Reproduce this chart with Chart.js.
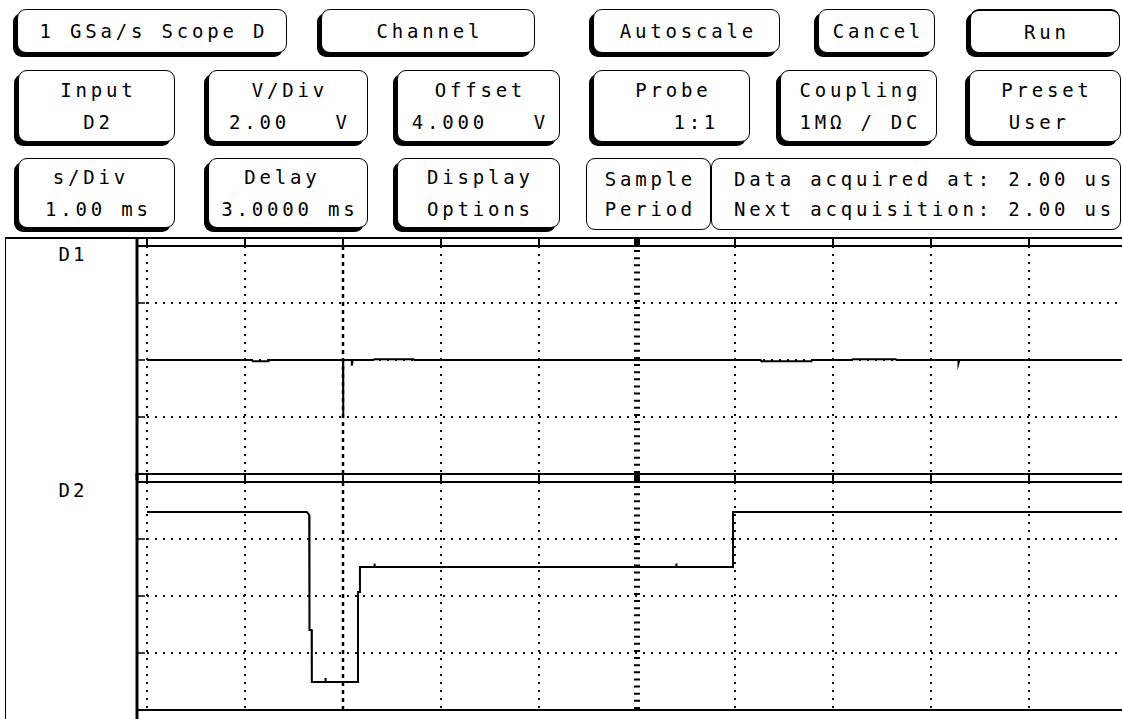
<!DOCTYPE html>
<html>
<head>
<meta charset="utf-8">
<script src="https://cdn.jsdelivr.net/npm/chart.js@4.4.0/dist/chart.umd.min.js"></script>
<style>
    html, body { margin: 0; padding: 0; width: 1122px; height: 719px; overflow: hidden; background: #fff; }
    body { position: relative; font-family: 'DejaVu Sans Mono', monospace; font-size: 19px; color: #000; }
    .btn {
        position: absolute; box-sizing: border-box; border: 1px solid #000; border-radius: 9px;
        background: #fff; display: flex; flex-direction: column; justify-content: center; align-items: center;
        line-height: 32px; letter-spacing: 3.8px; white-space: pre; padding-left: 3.8px;
    }
    .btn.sh { box-shadow: -4px 4px 0 #000; }
    .btn.left { align-items: flex-start; padding-left: 22px; }
    .label-box {
        position: absolute; left: 5px; top: 237px; width: 134px; height: 500px; box-sizing: border-box;
        border-left: 1.5px solid #000; border-top: 2px solid #000;
    }
    .ch { position: absolute; left: 7px; width: 132px; text-align: center; letter-spacing: 3px; line-height: 20px; }
    canvas { position: absolute; left: 0; }
</style>
</head>
<body>

<!-- Панель кнопок -->
<div class="btn sh" style="left:17px;top:9px;width:270px;height:44px">1 GSa/s Scope D</div>
<div class="btn sh" style="left:321px;top:9px;width:214px;height:44px">Channel</div>
<div class="btn sh" style="left:593px;top:9px;width:187px;height:44px">Autoscale</div>
<div class="btn sh" style="left:818px;top:9px;width:117px;height:44px">Cancel</div>
<div class="btn sh" style="left:970px;top:9px;width:150px;height:44px;border-top-width:2px">Run</div>

<div class="btn sh" style="left:18px;top:70px;width:157px;height:72px"><div>Input</div><div>D2</div></div>
<div class="btn sh" style="left:208px;top:70px;width:160px;height:72px"><div>V/Div</div><div>2.00   V</div></div>
<div class="btn sh" style="left:397px;top:70px;width:163px;height:72px"><div>Offset</div><div>4.000   V</div></div>
<div class="btn sh" style="left:593px;top:70px;width:157px;height:72px"><div>Probe</div><div>   1:1</div></div>
<div class="btn sh" style="left:780px;top:70px;width:157px;height:72px"><div>Coupling</div><div>1MΩ / DC</div></div>
<div class="btn sh" style="left:969px;top:70px;width:152px;height:72px"><div>Preset</div><div>User </div></div>

<div class="btn sh" style="left:18px;top:158px;width:157px;height:70px"><div>s/Div </div><div>1.00 ms</div></div>
<div class="btn sh" style="left:208px;top:158px;width:160px;height:70px"><div>Delay </div><div>3.0000 ms</div></div>
<div class="btn sh" style="left:397px;top:158px;width:163px;height:70px"><div>Display</div><div>Options</div></div>
<div class="btn" style="left:586px;top:158px;width:125px;height:72px;line-height:30px"><div>Sample</div><div>Period</div></div>
<div class="btn left" style="left:711px;top:158px;width:410px;height:72px;line-height:30px"><div>Data acquired at: 2.00 us</div><div>Next acquisition: 2.00 us</div></div>

<!-- Левая колонка с подписями каналов -->
<div class="label-box"></div>
<div class="ch" style="top:244px">D1</div>
<div class="ch" style="top:480px">D2</div>

<canvas id="scopeD1" width="1130" height="248" style="top:232px"></canvas>
<canvas id="scopeD2" width="1130" height="247" style="top:472px"></canvas>

<script>
// Развёртка: 1 мс/дел, задержка 3 мс (центр экрана), 10 делений
const timeMin = -2;
const timeMax = 8;
const timeCenter = 3;

// Канал D1 (мс, В)
const d1Time = [-2, -0.93, -0.92, -0.76, -0.75, -0.6, -0.59, 0, 0, 0.005, 0.09, 0.09, 0.1, 0.31, 0.32,
    0.72, 0.73, 4.26, 4.27, 4.78, 4.79, 5.19, 5.2, 5.64, 5.65, 6.28, 6.28, 6.29, 8];
const d1Volt = [0, 0, -0.04, -0.04, 0, 0, 0, 0, -2.0, 0, 0, -0.2, 0, 0, 0.03,
    0.03, 0, 0, -0.04, -0.04, 0, 0, 0.03, 0.03, 0, 0, -0.12, 0, 0];

// Канал D2 (мс, В): 2 В/дел, смещение 4 В
const d2Time = [-2, -0.37, -0.345, -0.342, -0.32, -0.318, -0.18, -0.18, -0.175, 0.153, 0.153,
    0.173, 0.173, 0.32, 0.32, 0.325, 3.4, 3.4, 3.405, 3.98, 3.98, 8];
const d2Volt = [6.95, 6.95, 6.85, 2.81, 2.81, 0.98, 0.98, 1.12, 0.98, 0.98, 4.14,
    4.14, 5.02, 5.02, 5.14, 5.02, 5.02, 5.14, 5.02, 5.02, 6.95, 6.95];

// Диапазоны по вертикали (4 деления)
const d1Range = [-4, 4];
const d2Range = [0, 8];
const voltStep = 2;

function line(ctx, x1, y1, x2, y2) {
    ctx.beginPath();
    ctx.moveTo(x1, y1);
    ctx.lineTo(x2, y2);
    ctx.stroke();
}

// Плагин: рамка экрана, линейка сверху, особые линии сетки
const scopeFramePlugin = {
    id: 'scopeFrame',
    beforeDatasetsDraw(chart) {
        const { ctx, chartArea: a, scales: { x } } = chart;
        ctx.save();
        ctx.strokeStyle = '#000';
        // линия момента запуска (t = 0)
        let px = Math.round(x.getPixelForValue(0));
        ctx.lineWidth = 2.5;
        ctx.setLineDash([4, 4]);
        line(ctx, px, a.top, px, a.bottom);
        // центральная линия с мелкими делениями
        px = Math.round(x.getPixelForValue(timeCenter));
        ctx.lineWidth = 6;
        ctx.setLineDash([2, (a.bottom - a.top) / 32 - 2]);
        line(ctx, px, a.top + 4, px, a.bottom);
        ctx.restore();
    },
    afterDraw(chart) {
        const { ctx, chartArea: a, scales: { x, y } } = chart;
        const left = a.left - 10;
        const rule = a.top - 8;
        ctx.save();
        ctx.setLineDash([]);
        ctx.strokeStyle = '#000';
        ctx.lineWidth = 2;
        line(ctx, left, rule, chart.width, rule);
        line(ctx, left, a.top, chart.width, a.top);
        line(ctx, left, a.bottom, chart.width, a.bottom);
        // метки делений на линейке
        x.ticks.forEach(t => {
            const px = Math.round(x.getPixelForValue(t.value));
            ctx.lineWidth = t.value === timeCenter ? 6 : 2;
            line(ctx, px, rule, px, a.top);
        });
        // толстая левая граница
        ctx.lineWidth = 3;
        line(ctx, left, rule - 1, left, chart.height);
        // метки делений по вертикали
        ctx.lineWidth = 1.5;
        y.ticks.forEach(t => {
            const py = Math.round(y.getPixelForValue(t.value));
            if (py > a.top + 1 && py < a.bottom - 1) line(ctx, left, py, left + 8, py);
        });
        ctx.restore();
    }
};

// Функция для создания панели осциллографа
function createScopePanel(canvasId, times, volts, range, padding) {
    const canvas = document.getElementById(canvasId);
    if (!canvas) return;

    const gridColor = ctx => {
        const v = ctx.tick ? ctx.tick.value : null;
        return (v === 0 || v === timeCenter) ? 'rgba(0,0,0,0)' : '#111';
    };

    return new Chart(canvas, {
        type: 'line',
        data: {
            datasets: [{
                data: times.map((t, i) => ({ x: t, y: volts[i] })),
                borderColor: '#000',
                borderWidth: 2,
                pointRadius: 0,
                tension: 0,
                fill: false
            }]
        },
        options: {
            responsive: false,
            animation: false,
            events: [],
            layout: { padding: padding },
            plugins: {
                legend: { display: false },
                tooltip: { enabled: false }
            },
            scales: {
                x: {
                    type: 'linear',
                    min: timeMin,
                    max: timeMax,
                    ticks: { stepSize: 1, display: false, includeBounds: false },
                    grid: { color: gridColor, lineWidth: 2, drawTicks: false },
                    border: { display: false, dash: [2, 6] },
                    afterFit: s => { s.height = 0; }
                },
                y: {
                    min: range[0],
                    max: range[1],
                    ticks: { stepSize: voltStep, display: false },
                    grid: { color: '#111', lineWidth: 2, drawTicks: false },
                    border: { display: false, dash: [2, 6] },
                    afterFit: s => { s.width = 0; }
                }
            }
        },
        plugins: [scopeFramePlugin]
    });
}

createScopePanel('scopeD1', d1Time, d1Volt, d1Range, { left: 147, right: 3, top: 14, bottom: 6 });
createScopePanel('scopeD2', d2Time, d2Volt, d2Range, { left: 147, right: 3, top: 10, bottom: 9 });
</script>
</body>
</html>
